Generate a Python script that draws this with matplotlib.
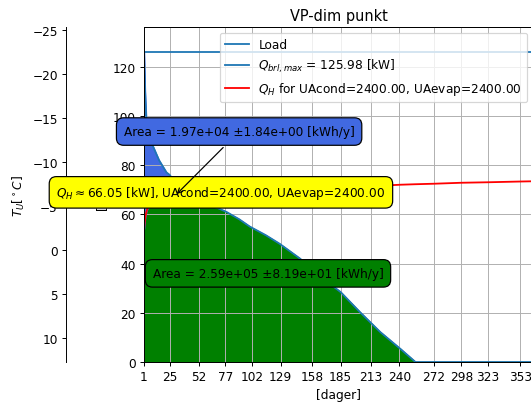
import numpy as np
import matplotlib
matplotlib.use("Agg")
import matplotlib.pyplot as plt

# Duration-curve data (day index, sorted load and heat-pump capacity)
days = [1, 2, 3, 4, 6, 8, 11, 15, 22, 25, 33, 40, 45, 52, 60, 70, 78, 90, 100,
        115, 128, 147, 165, 185, 203, 222, 241, 255, 272, 298, 323, 353, 365]
load = [126.0, 110, 100, 96, 92, 89, 86, 82, 77, 76, 71, 69, 67, 65.5, 64, 62.5, 61,
        58, 55, 51.5, 48, 42, 35, 28.4, 20.3, 12.2, 5.3, 0, 0, 0, 0, 0, 0]
qh = [54.0, 58, 60.5, 62, 63.5, 64.2, 64.8, 65.3, 65.8, 66.0, 66.3, 66.6, 66.8, 67.0,
      67.3, 67.6, 67.9, 68.3, 68.6, 69.1, 69.5, 70.0, 70.5, 70.9, 71.3, 71.6, 72.0,
      72.2, 72.4, 72.8, 73.0, 73.3, 73.4]
q_brl_max = 125.98

xtick_pos = [1, 25, 52, 77, 102, 129, 158, 185, 213, 240, 272, 298, 323, 353]
xtick_labels = [str(v) for v in xtick_pos]

temp_lim = (12.73, -25.34)

d = np.array(days, dtype=float)
L = np.array(load)
Q = np.array(qh)

DPI = 87
fig = plt.figure(figsize=(531 / DPI, 403 / DPI), dpi=DPI)
ax = fig.add_axes([144/531, 40/403, 389/531, 335/403])
ax2 = ax.twinx()

ax.fill_between(d, 0, np.minimum(L, Q), color='green')
ax.fill_between(d, Q, L, where=L > Q, interpolate=True, color='royalblue')
ax.plot(d, L, color='C0', label='Load')
ax.axhline(q_brl_max, color='C0', label=r'$Q_{brl,max}$ = 125.98 [kW]')
ax.plot(d, Q, color='r', label=r'$Q_H$ for UAcond=2400.00, UAevap=2400.00')

ax.set_xlim(1, 365)
ax.set_ylim(0, q_brl_max * 1.08)
ax.set_xticks(xtick_pos)
ax.set_xticklabels(xtick_labels)
ax.grid(True)
ax.set_xlabel('[dager]')
ax.set_ylabel('[kW]')
ax.set_title('VP-dim punkt')
ax.legend(loc='upper right')

box = 'round,pad=0.6'
ax.text(73, 68.9, r'$Q_H \approx 66.05$ [kW], UAcond=2400.00, UAevap=2400.00',
        ha='center', va='center',
        bbox=dict(boxstyle=box, fc='yellow', ec='black'))
ax.text(117, 36, 'Area = 2.59e+05 ±8.19e+01 [kWh/y]', ha='center', va='center',
        bbox=dict(boxstyle=box, fc='green', ec='black'))
ax.annotate('Area = 1.97e+04 ±1.84e+00 [kWh/y]', xy=(30, 67.5), xytext=(90, 93.6),
            ha='center', va='center',
            bbox=dict(boxstyle=box, fc='royalblue', ec='black'),
            arrowprops=dict(arrowstyle='->', color='black'))

ax2.spines['left'].set_position(('axes', -0.2))
ax2.spines['left'].set_visible(True)
ax2.spines['right'].set_visible(False)
ax2.yaxis.set_ticks_position('left')
ax2.yaxis.set_label_position('left')
ax2.set_ylim(*temp_lim)
ax2.set_ylabel(r'$T_U [^\circ C]$')

ax.set_zorder(ax2.get_zorder() + 1)
ax.patch.set_visible(False)

fig.savefig('out.png', dpi=DPI)
